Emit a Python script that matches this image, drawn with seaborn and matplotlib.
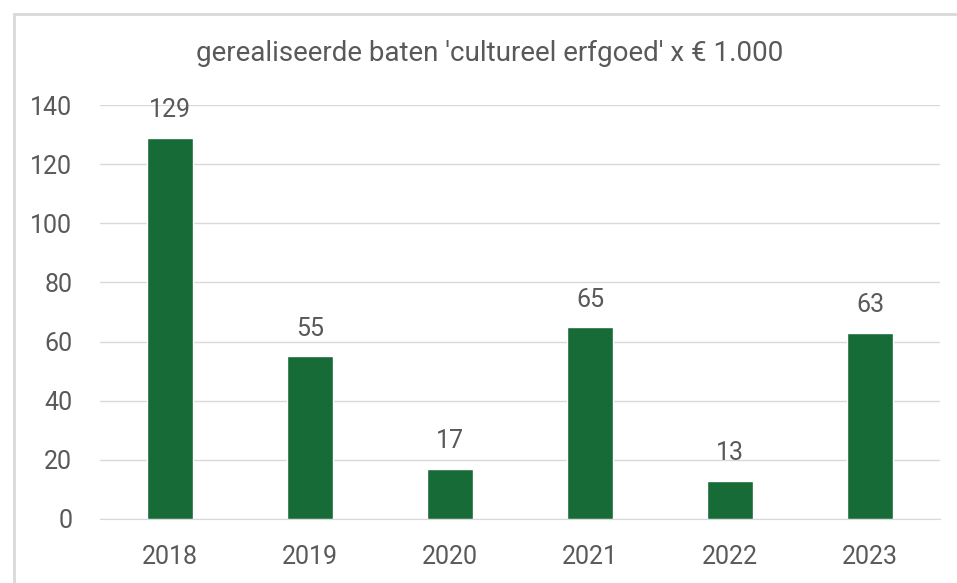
import matplotlib
matplotlib.use('Agg')
import pandas as pd
import seaborn as sns
import matplotlib.pyplot as plt
from matplotlib.lines import Line2D

# Data
years = ['2018', '2019', '2020', '2021', '2022', '2023']
baten = [129, 55, 17, 65, 13, 63]

df = pd.DataFrame({'jaar': years, 'baten': baten})

sns.set_style('white')
plt.rcParams['font.family'] = ['Roboto', 'DejaVu Sans']

grey = '#595959'
green = '#176b37'

fig = plt.figure(figsize=(9.57, 5.83), dpi=100)
ax = fig.add_axes([0.1045, 0.1098, 0.8777, 0.710])

sns.barplot(data=df, x='jaar', y='baten', color=green, width=0.33,
            saturation=1, ax=ax, zorder=3)

# value labels above the bars
for i, v in enumerate(baten):
    ax.annotate(str(v), (i, v), xytext=(0, 11), textcoords='offset points',
                ha='center', va='bottom', fontsize=18, color=grey)

ax.set_ylim(0, 140)
ax.set_yticks(range(0, 141, 20))
ax.set_xlim(-0.5, 5.5)
ax.yaxis.grid(True, color='#d9d9d9', linewidth=1, zorder=0)
ax.tick_params(axis='both', labelsize=18, colors=grey, length=0)
ax.tick_params(axis='y', pad=20)
ax.tick_params(axis='x', pad=19)
ax.set_xlabel('')
ax.set_ylabel('')
for s in ['top', 'right', 'left']:
    ax.spines[s].set_visible(False)
ax.spines['bottom'].set_color('#d9d9d9')

fig.text(0.5115, 0.909, "gerealiseerde baten 'cultureel erfgoed' x € 1.000",
         ha='center', va='center', fontsize=20, color=grey)

# outer frame lines
fig.add_artist(Line2D([14/957, 1], [1 - 14/583, 1 - 14/583],
                      transform=fig.transFigure, color='#d9d9d9', lw=2))
fig.add_artist(Line2D([14/957, 14/957], [0, 1 - 14/583],
                      transform=fig.transFigure, color='#d9d9d9', lw=2))

fig.savefig('out.png', dpi=100)
